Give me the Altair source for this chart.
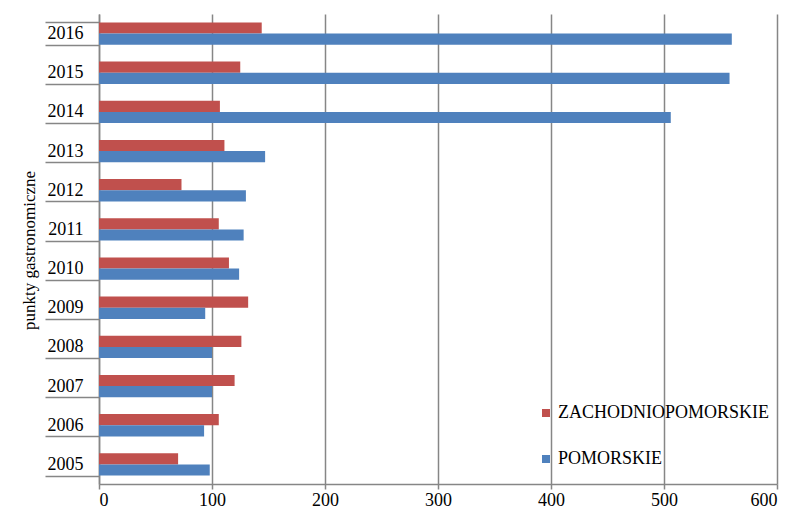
import altair as alt
import pandas as pd

years = [str(y) for y in range(2005, 2017)]
pomorskie = [98, 93, 100, 100, 94, 124, 128, 130, 147, 506, 558, 560]
zachodnio = [70, 106, 120, 126, 132, 115, 106, 73, 111, 107, 125, 144]
series = ["ZACHODNIOPOMORSKIE", "POMORSKIE"]
colors = ["#C0504D", "#4F81BD"]
x_ticks = [0, 100, 200, 300, 400, 500, 600]

rows = []
for i, y in enumerate(years):
    rows.append({"year": y, "series": series[0], "value": zachodnio[i]})
    rows.append({"year": y, "series": series[1], "value": pomorskie[i]})
df = pd.DataFrame(rows)

font = "Liberation Serif"
grey = "#868686"

chart = alt.Chart(df).mark_bar().encode(
    x=alt.X("value:Q", scale=alt.Scale(domain=[0, 600], nice=False),
            axis=alt.Axis(values=x_ticks, title=None, grid=True, gridColor=grey,
                          gridWidth=1.5, domainColor=grey, domainWidth=1.5,
                          tickColor=grey, tickWidth=1.5, tickSize=5,
                          labelFont=font, labelFontSize=18, labelColor="black",
                          labelPadding=2)),
    y=alt.Y("year:N", sort=years[::-1],
            scale=alt.Scale(paddingInner=0.43, paddingOuter=0.215),
            axis=alt.Axis(title="punkty gastronomiczne", tickBand="extent",
                          tickSize=54, tickColor=grey, tickWidth=1.5,
                          domainColor=grey, domainWidth=1.5,
                          labelPadding=-38, labelFont=font, labelFontSize=18,
                          labelColor="black", grid=False,
                          titleFont=font, titleFontSize=17, titleFontWeight="normal",
                          titleColor="black", titleX=-70, titleY=236,
                          titleAngle=270, titleAlign="center", titleBaseline="middle")),
    yOffset=alt.YOffset("series:N", sort=series),
    color=alt.Color("series:N", sort=series,
                    scale=alt.Scale(domain=series, range=colors),
                    legend=alt.Legend(title=None, orient="none", legendX=438, legendY=390,
                                      symbolType="square", symbolSize=64,
                                      symbolStrokeWidth=0, labelLimit=0,
                                      labelFont=font, labelFontSize=18,
                                      labelColor="black", rowPadding=28,
                                      labelOffset=3)),
).properties(
    width=678, height=470,
    autosize=alt.AutoSizeParams(type="none"),
    padding={"left": 91, "top": 6, "right": 7, "bottom": 29},
).configure_view(stroke=None)

chart.save("out.html", embed_options={"renderer": "svg", "actions": False})
